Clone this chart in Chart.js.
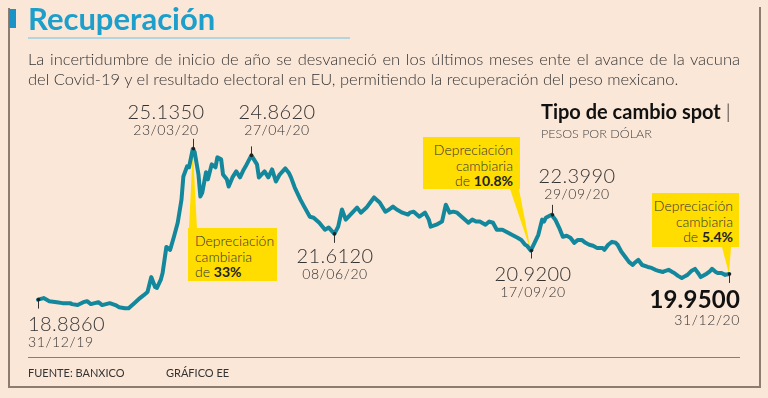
<!DOCTYPE html>
<html lang="es">
<head>
<meta charset="utf-8">
<script src="https://cdn.jsdelivr.net/npm/chart.js@4.4.1/dist/chart.umd.min.js"></script>
<style>
body{margin:0;background:#fbe7d8;font-family:Lato,"Noto Sans",sans-serif;color:#333}
#wrap{position:relative;width:768px;height:398px;overflow:hidden;background:#fbe7d8}
canvas{position:absolute;left:0;top:0}
.abs{position:absolute;white-space:nowrap}
.line{position:absolute;background:#8c7c72}
.title{left:28px;top:-1px;font-size:31px;font-weight:700;color:#1d9fcb}
.sub{left:28px;font-size:16.5px;font-weight:300;color:#333;line-height:20px}
.ann{position:absolute;color:#333;font-weight:300}
.ann .num{font-size:20px;line-height:20px;letter-spacing:0.4px}
.ann .date{font-size:14px;line-height:17px;letter-spacing:0.6px}
.box{position:absolute;background:#ffdd00;font-size:14px;font-weight:300;line-height:15.5px;color:#333;box-sizing:border-box;padding-top:5px}
.box b{font-weight:700;color:#222}
.foot{top:366px;font-size:11px;color:#333}
</style>
</head>
<body>
<div id="wrap">
  <canvas id="chart" width="768" height="398"></canvas>

  <div class="line" style="left:8px;top:8px;width:1.5px;height:380px"></div>
  <div class="line" style="left:759px;top:7px;width:1.5px;height:381px"></div>
  <div class="line" style="left:8px;top:386px;width:752px;height:1.5px"></div>
  <div class="abs" style="left:9px;top:9px;width:7px;height:19px;background:#1b93c6"></div>
  <div class="abs title">Recuperación</div>
  <div class="abs" style="left:28px;top:37px;width:322px;height:1.5px;background:#b4d5de"></div>
  <div class="abs sub" style="top:49px;width:712px;text-align:justify;text-align-last:justify">La incertidumbre de inicio de año se desvaneció en los últimos meses ente el avance de la vacuna</div>
  <div class="abs sub" style="top:69px">del Covid-19 y el resultado electoral en EU, permitiendo la recuperación del peso mexicano.</div>

  <div class="abs" style="left:541px;top:99px;font-size:20px;font-weight:700;color:#111">Tipo de cambio spot <span style="font-weight:300">|</span></div>
  <div class="abs" style="left:541px;top:126px;font-size:12.5px;font-weight:300;color:#444">PESOS POR DÓLAR</div>

  <div class="ann" style="left:126px;top:101px;width:80px;text-align:center"><div class="num">25.1350</div><div class="date">23/03/20</div></div>
  <div class="ann" style="left:237px;top:101px;width:80px;text-align:center"><div class="num">24.8620</div><div class="date">27/04/20</div></div>
  <div class="ann" style="left:295px;top:245px;width:80px;text-align:center"><div class="num">21.6120</div><div class="date">08/06/20</div></div>
  <div class="ann" style="left:493px;top:263px;width:80px;text-align:center"><div class="num">20.9200</div><div class="date">17/09/20</div></div>
  <div class="ann" style="left:537px;top:165px;width:80px;text-align:center"><div class="num">22.3990</div><div class="date">29/09/20</div></div>
  <div class="ann" style="left:630px;top:286px;width:110px;text-align:right"><div class="num" style="font-size:24px;font-weight:700;color:#111;line-height:25px;letter-spacing:0.2px">19.9500</div><div class="date">31/12/20</div></div>
  <div class="ann" style="left:28px;top:313px;width:100px;text-align:left"><div class="num">18.8860</div><div class="date">31/12/19</div></div>

  <div class="box" style="left:188px;top:228px;width:89px;height:53px;padding-left:7px">Depreciación<br>cambiaria<br>de <b>33%</b></div>
  <div class="box" style="left:423px;top:137px;width:97px;height:52px;padding-right:7px;text-align:right">Depreciación<br>cambiaria<br>de <b>10.8%</b></div>
  <div class="box" style="left:652px;top:193px;width:87px;height:54px;padding-right:6px;text-align:right">Depreciación<br>cambiaria<br>de <b>5.4%</b></div>

  <div class="line" style="left:28px;top:357px;width:712px;height:1px"></div>
  <div class="abs foot" style="left:28px">FUENTE: BANXICO</div>
  <div class="abs foot" style="left:166px">GRÁFICO EE</div>
</div>

<script>
// dias desde el 31/12/19 y tipo de cambio spot (pesos por dolar)
const days = [0, 3, 6, 10, 13, 17, 18, 21, 24, 26, 28, 32, 34, 38, 41, 43, 46, 48, 51, 54,
  56, 58, 60, 62, 63, 65, 66, 68, 70, 72, 74, 76, 77, 79, 80, 82, 83, 85, 86, 87,
  89, 90, 92, 94, 95, 97, 98, 100, 101, 103, 105, 107, 109, 110, 113, 116, 117, 120, 122, 124,
  126, 128, 131, 133, 134, 136, 139, 141, 144, 146, 149, 152, 154, 157, 159, 161, 163, 166, 169, 171,
  174, 176, 178, 181, 184, 186, 188, 190, 193, 196, 197, 199, 202, 205, 207, 208, 211, 214, 216, 218,
  220, 222, 225, 228, 230, 232, 234, 237, 239, 241, 243, 246, 248, 251, 254, 256, 258, 259, 261, 263,
  265, 267, 268, 269, 272, 274, 276, 278, 280, 282, 284, 286, 288, 290, 292, 294, 296, 299, 300, 302,
  304, 306, 307, 309, 311, 313, 315, 316, 318, 320, 323, 325, 327, 329, 331, 332, 334, 336, 337, 339,
  341, 343, 344, 346, 348, 350, 351, 353, 354, 356, 357, 359, 360, 362, 364, 366];
const values = [18.886, 18.95, 18.82, 18.78, 18.74, 18.74, 18.70, 18.66, 18.78, 18.82, 18.70, 18.78, 18.66, 18.74, 18.66, 18.57, 18.53, 18.53, 18.74, 18.95,
  19.07, 19.20, 19.82, 19.41, 19.37, 19.70, 19.99, 21.07, 20.95, 21.49, 22.07, 23.03, 23.99, 24.41, 24.37, 25.135, 24.99, 24.07, 23.16, 23.32,
  24.16, 23.87, 24.49, 24.37, 24.78, 24.70, 24.07, 23.87, 23.57, 23.95, 24.20, 23.95, 24.28, 24.41, 24.862, 24.49, 23.95, 24.20, 23.95, 24.28,
  23.78, 24.07, 24.32, 24.12, 23.95, 23.53, 23.03, 22.74, 22.32, 22.28, 22.07, 21.78, 21.87, 21.612, 21.91, 22.62, 22.20, 22.45, 22.70, 22.49,
  22.70, 22.91, 23.12, 22.91, 22.53, 22.62, 22.74, 22.62, 22.49, 22.41, 22.49, 22.53, 22.32, 22.49, 22.20, 21.91, 21.99, 22.12, 22.82, 22.49,
  22.53, 22.49, 22.28, 22.07, 22.20, 22.12, 22.12, 21.99, 22.12, 22.07, 21.78, 21.78, 21.70, 21.57, 21.45, 21.36, 21.16, 21.12, 20.92, 21.24,
  21.57, 22.20, 22.12, 22.28, 22.399, 22.20, 21.87, 21.49, 21.53, 21.45, 21.24, 21.36, 21.36, 21.24, 21.16, 21.12, 21.03, 21.03, 20.95, 21.16,
  21.28, 21.24, 21.16, 20.87, 20.66, 20.45, 20.32, 20.41, 20.53, 20.32, 20.24, 20.20, 20.12, 20.07, 20.03, 20.07, 20.12, 20.03, 19.99, 19.87,
  19.78, 19.87, 19.91, 20.07, 20.16, 19.95, 19.82, 19.91, 19.95, 20.07, 20.16, 20.03, 19.99, 19.99, 19.91, 19.95];

// puntos etiquetados (dia) y largo de la marca hacia su etiqueta (negativo = arriba)
const labelled = [{day: 0, len: 9}, {day: 82, len: -10}, {day: 113, len: -9}, {day: 157, len: 9},
  {day: 261, len: 8}, {day: 272, len: -10}, {day: 366, len: 9}];
// flechas amarillas: dia al que apuntan y base en la caja
const pointers = [{day: 82, x1: 189, x2: 197, y: 229}, {day: 261, x1: 510, x2: 519, y: 189},
  {day: 366, x1: 722, x2: 731, y: 247}];

function valueAt(day) {
  return values[days.indexOf(day)];
}

const callouts = {
  id: 'callouts',
  beforeDatasetsDraw(chart) {
    const ctx = chart.ctx, sx = chart.scales.x, sy = chart.scales.y;
    ctx.save();
    ctx.fillStyle = '#ffdd00';
    pointers.forEach(p => {
      ctx.beginPath();
      ctx.moveTo(p.x1, p.y);
      ctx.lineTo(p.x2, p.y);
      ctx.lineTo(sx.getPixelForValue(p.day), sy.getPixelForValue(valueAt(p.day)));
      ctx.closePath();
      ctx.fill();
    });
    ctx.restore();
  },
  afterDatasetsDraw(chart) {
    const ctx = chart.ctx, sx = chart.scales.x, sy = chart.scales.y;
    ctx.save();
    ctx.strokeStyle = '#333';
    ctx.fillStyle = '#222';
    ctx.lineWidth = 1;
    labelled.forEach(m => {
      const px = Math.round(sx.getPixelForValue(m.day)) + 0.5;
      const py = sy.getPixelForValue(valueAt(m.day));
      ctx.beginPath();
      ctx.moveTo(px, py);
      ctx.lineTo(px, py + m.len);
      ctx.stroke();
      ctx.beginPath();
      ctx.arc(px, py, 1.8, 0, Math.PI * 2);
      ctx.fill();
    });
    ctx.restore();
  }
};

new Chart(document.getElementById('chart'), {
  type: 'line',
  data: {
    datasets: [{
      data: days.map((d, i) => ({x: d, y: values[i]})),
      borderColor: '#13879c',
      borderWidth: 4,
      pointRadius: 0,
      tension: 0,
      borderJoinStyle: 'round',
      borderCapStyle: 'round',
      clip: false
    }]
  },
  options: {
    responsive: false,
    devicePixelRatio: 1,
    animation: false,
    layout: {padding: {left: 38, right: 39, top: 140, bottom: 77}},
    plugins: {legend: {display: false}, tooltip: {enabled: false}},
    scales: {
      x: {type: 'linear', min: 0, max: 366, display: false},
      y: {min: 18, max: 25.5, display: false}
    }
  },
  plugins: [callouts]
});
</script>
</body>
</html>
